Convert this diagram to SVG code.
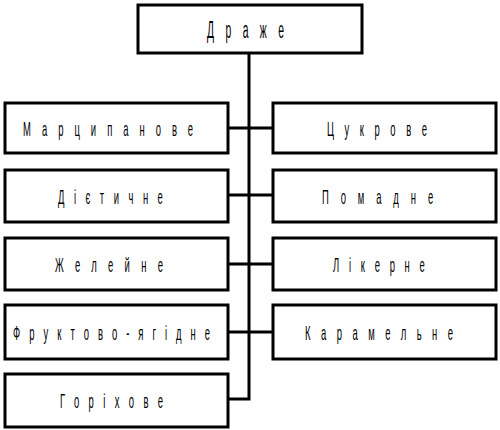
<svg xmlns="http://www.w3.org/2000/svg" width="500" height="430" viewBox="0 0 500 430">
<style>
.box{fill:#fff;stroke:#000;stroke-width:3}
.ln{fill:none;stroke:#000;stroke-width:3}
text{font-family:"Liberation Sans",Arial,sans-serif;font-size:21px;fill:#000}
.t{font-size:23px}
</style>
<rect width="500" height="430" fill="#fff"/>
<g id="connectors">
<path class="ln" d="M249,53 V399 H228 M228,128 H273 M228,195 H273 M228,264 H273 M228,332 H273"/>
</g>
<g id="n0"><rect class="box" x="138" y="5" width="224" height="48"/><text class="t" transform="translate(207,38) scale(0.45,1)" x="0" y="0" textLength="171" lengthAdjust="spacing">Драже</text></g>
<g id="n1"><rect class="box" x="5" y="103" width="223" height="50"/><text transform="translate(23,136) scale(0.45,1)" x="0" y="0" textLength="378" lengthAdjust="spacing">Марципанове</text></g>
<g id="n2"><rect class="box" x="273" y="103" width="223" height="50"/><text transform="translate(327,136) scale(0.45,1)" x="0" y="0" textLength="222" lengthAdjust="spacing">Цукрове</text></g>
<g id="n3"><rect class="box" x="5" y="170" width="223" height="52"/><text transform="translate(58,204) scale(0.45,1)" x="0" y="0" textLength="233" lengthAdjust="spacing">Дієтичне</text></g>
<g id="n4"><rect class="box" x="273" y="170" width="223" height="52"/><text transform="translate(322,204) scale(0.45,1)" x="0" y="0" textLength="247" lengthAdjust="spacing">Помадне</text></g>
<g id="n5"><rect class="box" x="5" y="238" width="223" height="52"/><text transform="translate(55,272) scale(0.45,1)" x="0" y="0" textLength="240" lengthAdjust="spacing">Желейне</text></g>
<g id="n6"><rect class="box" x="273" y="238" width="223" height="52"/><text transform="translate(333,272) scale(0.45,1)" x="0" y="0" textLength="204" lengthAdjust="spacing">Лікерне</text></g>
<g id="n7"><rect class="box" x="5" y="305" width="223" height="54"/><text transform="translate(13,340) scale(0.45,1)" x="0" y="0" textLength="438" lengthAdjust="spacing">Фруктово-ягідне</text></g>
<g id="n8"><rect class="box" x="273" y="305" width="223" height="54"/><text transform="translate(305,340) scale(0.45,1)" x="0" y="0" textLength="329" lengthAdjust="spacing">Карамельне</text></g>
<g id="n9"><rect class="box" x="5" y="374" width="223" height="53"/><text transform="translate(60,408) scale(0.45,1)" x="0" y="0" textLength="229" lengthAdjust="spacing">Горіхове</text></g>
</svg>
